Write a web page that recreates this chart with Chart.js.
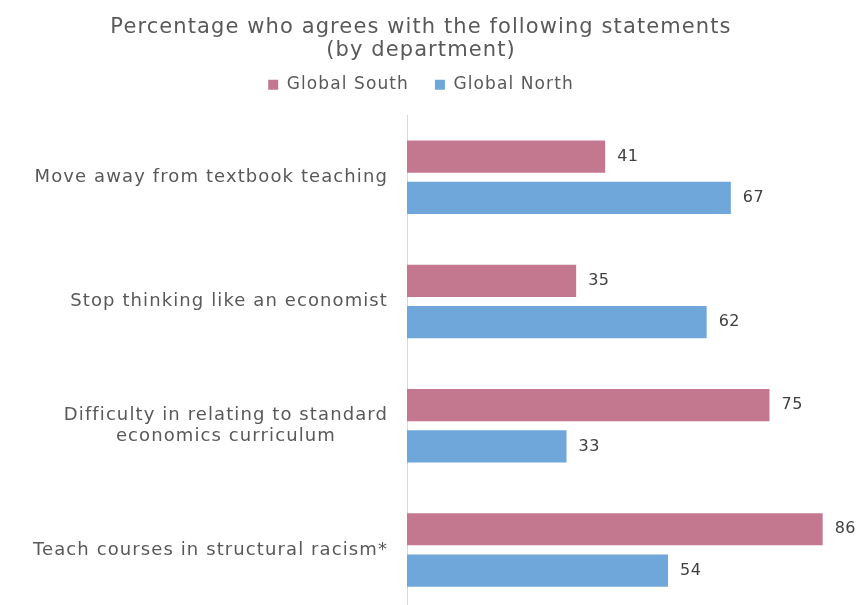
<!DOCTYPE html>
<html>
<head>
<meta charset="utf-8">
<script src="https://cdn.jsdelivr.net/npm/chart.js@4"></script>
<style>
  html, body { margin: 0; padding: 0; background: #fff; overflow: hidden; }
  #wrap { position: relative; width: 856px; height: 612px; }
</style>
</head>
<body>
<div id="wrap"><canvas id="chart"></canvas></div>
<script>
// Survey statements (each entry is a list of lines)
const statements = [
  ['Move away from textbook teaching'],
  ['Stop thinking like an economist'],
  ['Difficulty in relating to standard', 'economics curriculum'],
  ['Teach courses in structural racism*']
];
const seriesNames = ['Global South', 'Global North'];
const southValues = [41, 35, 75, 86];
const northValues = [67, 62, 33, 54];
const titleLines = ['Percentage who agrees with the following statements', '(by department)'];

const FONT = "'DejaVu Sans', sans-serif";
const TEXT = '#595959';
const WIDE = '1.1px';

// Wider tracking for the title and legend text
const tracking = {
  id: 'tracking',
  beforeLayout(chart) { chart.ctx.letterSpacing = WIDE; },
  beforeDraw(chart) { chart.ctx.letterSpacing = WIDE; }
};

// Extra room between the legend and the plot
const legendGap = {
  id: 'legendGap',
  afterInit(chart) {
    const lg = chart.legend;
    if (!lg || lg._gapWrapped) return;
    const fit = lg.fit.bind(lg);
    lg.fit = function () { fit(); this.height += 12; };
    lg._gapWrapped = true;
  }
};

// Category labels: right-aligned block, each line centred within the block
const categoryLabels = {
  id: 'categoryLabels',
  afterDraw(chart) {
    const ctx = chart.ctx;
    const y = chart.scales.y;
    const rightEdge = chart.chartArea.left - 19;
    ctx.save();
    ctx.letterSpacing = '1.1px';
    ctx.font = '18px ' + FONT;
    ctx.fillStyle = TEXT;
    ctx.textBaseline = 'middle';
    ctx.textAlign = 'center';
    const lh = 21;
    statements.forEach((lines, i) => {
      const cy = y.getPixelForValue(i);
      const w = Math.max(...lines.map(l => ctx.measureText(l).width));
      const cx = rightEdge - w / 2;
      const top = cy - (lines.length - 1) * lh / 2;
      lines.forEach((l, k) => ctx.fillText(l, cx, top + k * lh));
    });
    ctx.restore();
  }
};

// Value labels at the end of each bar
const valueLabels = {
  id: 'valueLabels',
  afterDatasetsDraw(chart) {
    const ctx = chart.ctx;
    ctx.save();
    ctx.letterSpacing = '0.5px';
    ctx.font = '16px ' + FONT;
    ctx.fillStyle = '#404040';
    ctx.textBaseline = 'middle';
    ctx.textAlign = 'left';
    chart.data.datasets.forEach((ds, di) => {
      chart.getDatasetMeta(di).data.forEach((bar, i) => {
        ctx.fillText(String(ds.data[i]), bar.x + 12, bar.y);
      });
    });
    ctx.restore();
  }
};

new Chart(document.getElementById('chart'), {
  type: 'bar',
  data: {
    labels: statements,
    datasets: [
      { label: seriesNames[0], data: southValues, backgroundColor: '#c4788f' },
      { label: seriesNames[1], data: northValues, backgroundColor: '#6fa7da' }
    ]
  },
  options: {
    indexAxis: 'y',
    responsive: true,
    maintainAspectRatio: false,
    animation: false,
    events: [],
    categoryPercentage: 0.665,
    barPercentage: 0.78,
    layout: { padding: { left: 0, right: 14, top: 0, bottom: 0 } },
    scales: {
      x: { display: false, min: 0, max: 90 },
      y: {
        display: true,
        grid: { display: false, drawTicks: false },
        border: { display: true, color: '#d9d9d9', width: 1 },
        ticks: { display: false },
        afterFit(scale) { scale.width = 407; }
      }
    },
    plugins: {
      tooltip: { enabled: false },
      title: {
        display: true,
        text: titleLines,
        color: TEXT,
        font: { family: FONT, size: 21, weight: 'normal', lineHeight: 1.1 },
        padding: { top: 16, bottom: -12 }
      },
      legend: {
        display: true,
        position: 'top',
        labels: {
          color: TEXT,
          font: { family: FONT, size: 17 },
          boxWidth: 10,
          boxHeight: 10,
          padding: 26
        }
      }
    }
  },
  plugins: [tracking, legendGap, categoryLabels, valueLabels]
});
</script>
</body>
</html>
